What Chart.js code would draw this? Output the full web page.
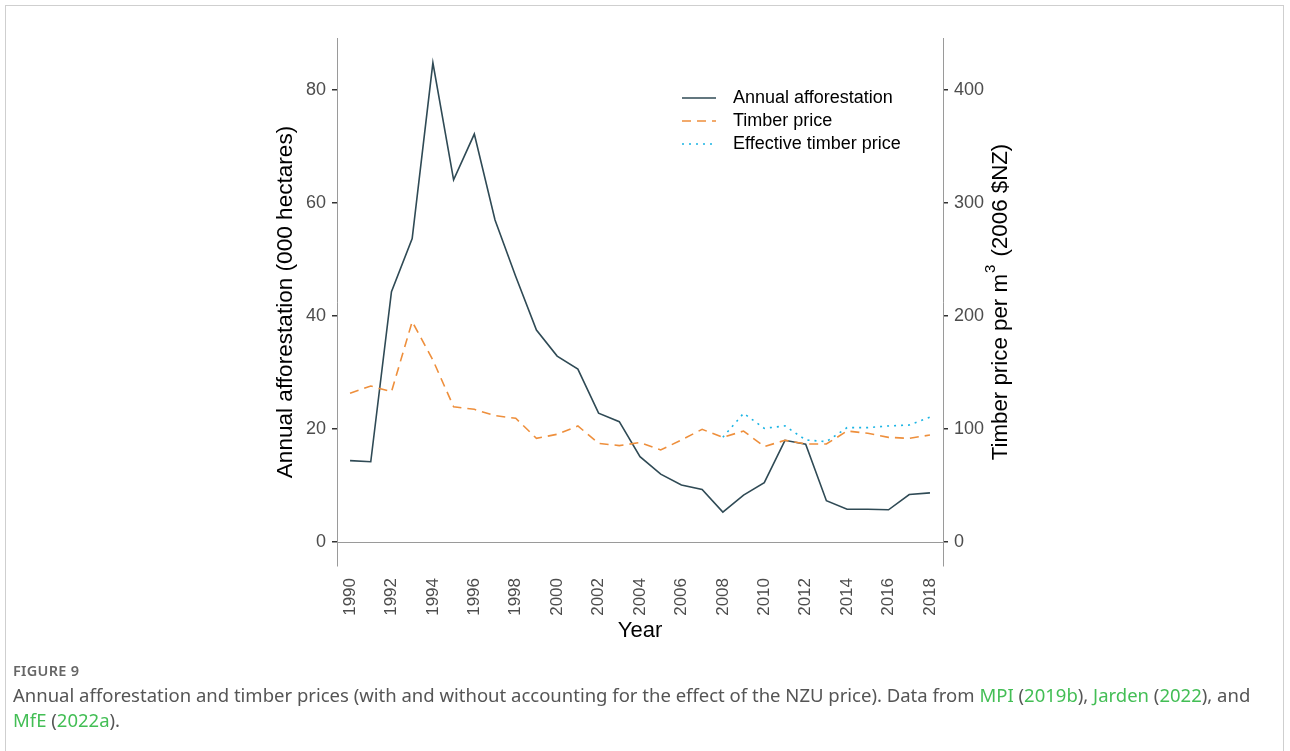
<!DOCTYPE html>
<html>
<head>
<meta charset="utf-8">
<script src="https://cdn.jsdelivr.net/npm/chart.js@4"></script>
<style>
	html, body { margin: 0; padding: 0; background: #fff; }
	#wrap { position: relative; width: 1290px; height: 751px; overflow: hidden; }
	#frame { position: absolute; left: 5px; top: 5px; width: 1279px; height: 800px; border: 1px solid #cfcfcf; box-sizing: border-box; }
	#grafica { position: absolute; left: 0; top: 0; }
	#fig { position: absolute; left: 13px; top: 660px; font: 600 14.5px 'Noto Sans', sans-serif; color: #666; letter-spacing: 0.3px; }
	#caption { position: absolute; left: 13px; top: 682px; font: 18.5px 'Noto Sans', sans-serif; color: #555; line-height: 25px; white-space: nowrap; }
	#caption span { color: #43be55; }
</style>
</head>
<body>
<div id="wrap">
	<div id="frame"></div>
	<canvas id="grafica" width="1290" height="751"></canvas>
	<div id="fig">FIGURE 9</div>
	<div id="caption">Annual afforestation and timber prices (with and without accounting for the effect of the NZU price). Data from <span>MPI</span> (<span>2019b</span>), <span>Jarden</span> (<span>2022</span>), and<br><span>MfE</span> (<span>2022a</span>).</div>
</div>
<script>
const years = [1990, 1991, 1992, 1993, 1994, 1995, 1996, 1997, 1998, 1999, 2000, 2001, 2002, 2003, 2004,
	2005, 2006, 2007, 2008, 2009, 2010, 2011, 2012, 2013, 2014, 2015, 2016, 2017, 2018];

// miles de hectareas
const afforestation = [14.4, 14.2, 44.3, 53.7, 84.8, 64.1, 72.2, 57.0, 47.0, 37.5, 32.9, 30.6, 22.8, 21.3, 15.1,
	12.0, 10.1, 9.3, 5.3, 8.3, 10.5, 18.0, 17.3, 7.3, 5.8, 5.8, 5.7, 8.4, 8.7];

// $NZ 2006 por m3
const timberPrice = [131.6, 138, 133, 195, 161, 119.7, 117.4, 111.8, 109.5, 91.7, 95.3, 102.7, 87.3, 85.3, 88.0,
	81.4, 90.3, 99.7, 92.6, 98.2, 84.4, 90.0, 86.7, 86.7, 98.2, 96.2, 92.6, 91.7, 94.7];

const effectivePrice = [null, null, null, null, null, null, null, null, null, null, null, null, null, null, null,
	null, null, null, 92.6, 113.9, 100.6, 102.7, 90.3, 88.8, 101.2, 101.2, 102.7, 103.5, 110.4];

const yearTicks = [1990, 1992, 1994, 1996, 1998, 2000, 2002, 2004, 2006, 2008, 2010, 2012, 2014, 2016, 2018];
const leftTicks = [0, 20, 40, 60, 80];
const rightTicks = [0, 100, 200, 300, 400];

const seriesNames = ['Annual afforestation', 'Timber price', 'Effective timber price'];

(function () {
	const grafica = document.getElementById('grafica');
	const FONT = "'Liberation Sans', Arial, sans-serif";
	const colores = ['#2f4a55', '#ee8f3c', '#1ab4e4'];
	const dashes = [[], [9, 6], [2, 5]];

	const toPoints = (vals) => years.map((y, i) => ({ x: y, y: vals[i] }));
	const fixTicks = (arr) => (scale) => { scale.ticks = arr.map((v) => ({ value: v })); };

	const extras = {
		id: 'extras',
		beforeDatasetsDraw(chart) {
			const { ctx, chartArea } = chart;
			const y0 = chart.scales.y.getPixelForValue(0);
			ctx.save();
			ctx.strokeStyle = '#9a9a9a';
			ctx.lineWidth = 1;
			ctx.beginPath();
			ctx.moveTo(chartArea.left, Math.round(y0) + 0.5);
			ctx.lineTo(chartArea.right, Math.round(y0) + 0.5);
			ctx.stroke();
			ctx.restore();
		},
		afterDraw(chart) {
			const { ctx, chartArea } = chart;
			const cy = (chartArea.top + chartArea.bottom) / 2;
			ctx.save();
			ctx.fillStyle = '#000';
			ctx.textBaseline = 'middle';

			// titulo eje izquierdo
			ctx.font = '22.6px ' + FONT;
			ctx.save();
			ctx.translate(286, cy);
			ctx.rotate(-Math.PI / 2);
			ctx.textAlign = 'center';
			ctx.fillText('Annual afforestation (000 hectares)', 0, 0);
			ctx.restore();

			// titulo eje derecho con superindice
			ctx.save();
			ctx.translate(1001, cy);
			ctx.rotate(-Math.PI / 2);
			ctx.textAlign = 'left';
			const a = 'Timber price per m', b = '3', c = ' (2006 $NZ)';
			ctx.font = '22.3px ' + FONT;
			const wa = ctx.measureText(a).width, wc = ctx.measureText(c).width;
			ctx.font = '15px ' + FONT;
			const wb = ctx.measureText(b).width;
			let x = -(wa + wb + 3 + wc) / 2;
			ctx.font = '22.3px ' + FONT;
			ctx.fillText(a, x, 0);
			x += wa + 1;
			ctx.font = '15px ' + FONT;
			ctx.fillText(b, x, -10);
			x += wb + 2;
			ctx.font = '22.3px ' + FONT;
			ctx.fillText(c, x, 0);
			ctx.restore();

			// titulo eje x
			ctx.font = '22px ' + FONT;
			ctx.textAlign = 'center';
			ctx.fillText('Year', (chartArea.left + chartArea.right) / 2, 631);

			// leyenda
			ctx.font = '18px ' + FONT;
			ctx.textAlign = 'left';
			seriesNames.forEach((name, i) => {
				const ly = 98 + i * 23;
				ctx.strokeStyle = colores[i];
				ctx.lineWidth = 1.6;
				ctx.setLineDash(dashes[i]);
				ctx.beginPath();
				ctx.moveTo(682, ly);
				ctx.lineTo(716, ly);
				ctx.stroke();
				ctx.setLineDash([]);
				ctx.fillStyle = '#000';
				ctx.fillText(name, 733, ly);
			});
			ctx.restore();
		},
	};

	const datasets = [afforestation, timberPrice, effectivePrice].map((vals, i) => ({
		label: seriesNames[i],
		data: toPoints(vals),
		yAxisID: i === 0 ? 'y' : 'y2',
		borderColor: colores[i],
		borderWidth: 1.6,
		borderDash: dashes[i],
		pointRadius: 0,
		tension: 0,
		spanGaps: false,
	}));

	new Chart(grafica, {
		type: 'line',
		data: { datasets: datasets.slice().reverse() },
		options: {
			responsive: false,
			animation: false,
			events: [],
			layout: { padding: { left: 0, right: 0, top: 38, bottom: 0 } },
			scales: {
				x: {
					type: 'linear',
					min: 1989.37,
					max: 2018.63,
					afterBuildTicks: fixTicks(yearTicks),
					afterFit: (s) => { s.height = 751 - 38 - 528; },
					grid: { display: false, drawTicks: false },
					border: { display: false },
					ticks: {
						maxRotation: 90,
						minRotation: 90,
						padding: 12,
						color: '#4d4d4d',
						font: { family: FONT, size: 17 },
						callback: (v) => String(v),
					},
				},
				y: {
					position: 'left',
					min: -4.25,
					max: 89.2,
					afterBuildTicks: fixTicks(leftTicks),
					afterFit: (s) => { s.width = 337; },
					grid: { drawOnChartArea: false, drawTicks: true, tickLength: 5, color: '#333', lineWidth: 1.5 },
					border: { display: true, color: '#9a9a9a', width: 1 },
					ticks: { padding: 6, color: '#4d4d4d', font: { family: FONT, size: 18 } },
				},
				y2: {
					position: 'right',
					min: -21.25,
					max: 446,
					afterBuildTicks: fixTicks(rightTicks),
					afterFit: (s) => { s.width = 1290 - 943; },
					grid: { drawOnChartArea: false, drawTicks: true, tickLength: 5, color: '#333', lineWidth: 1.5 },
					border: { display: true, color: '#9a9a9a', width: 1 },
					ticks: { padding: 6, color: '#4d4d4d', font: { family: FONT, size: 18 } },
				},
			},
			plugins: {
				legend: { display: false },
				tooltip: { enabled: false },
			},
		},
		plugins: [extras],
	});
})();
</script>
</body>
</html>
